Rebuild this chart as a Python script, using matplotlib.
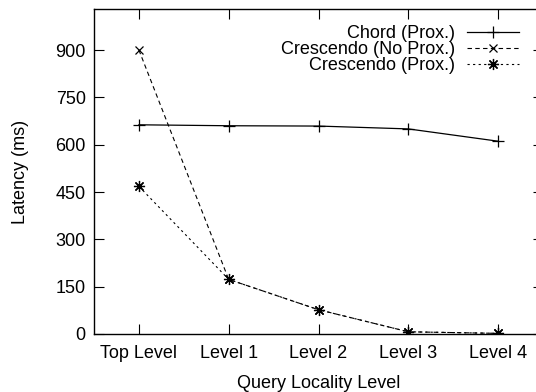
import matplotlib
matplotlib.use("Agg")
import matplotlib.pyplot as plt

plt.rcParams['font.family'] = ['Liberation Sans', 'DejaVu Sans']

levels = ["Top Level", "Level 1", "Level 2", "Level 3", "Level 4"]
chord_prox = [663, 660, 659, 650, 611]
crescendo_no_prox = [900, 173, 77, 7, 2]
crescendo_prox = [468, 173, 77, 7, 2]

x = list(range(len(levels)))

fig = plt.figure(figsize=(5.36, 3.92), dpi=100)
ax = fig.add_axes([94 / 536, 1 - 334 / 392, (543 - 94) / 536, (334 - 9) / 392])

ax.plot(x, chord_prox, color="black", lw=0.9, marker="+", ms=8, mew=0.9,
        label="Chord (Prox.)")
ax.plot(x, crescendo_no_prox, color="black", lw=0.8, ls=(0, (4, 3)), marker="x",
        ms=6, mew=0.9, label="Crescendo (No Prox.)")
ax.plot(x, crescendo_prox, color="black", lw=0.8, ls=(0, (2, 3)), marker=(8, 2, 0),
        ms=8, mew=0.9, label="Crescendo (Prox.)")

ax.set_xlim(-0.5, 4.5)
ax.set_ylim(0, 1030)
ax.set_xticks(x)
ax.set_xticklabels(levels)
ax.set_yticks([0, 150, 300, 450, 600, 750, 900])
ax.tick_params(direction="in", top=True, right=True, length=7, width=0.8,
               labelsize=13, pad=6)
ax.tick_params(axis="x", pad=8)
for s in ax.spines.values():
    s.set_linewidth(1.0)

ax.set_xlabel("Query Locality Level", fontsize=13, labelpad=9)
ax.set_ylabel("Latency (ms)", fontsize=13, labelpad=19)

leg = ax.legend(loc="upper right", bbox_to_anchor=(0.983, 1.0), frameon=False,
                markerfirst=False, fontsize=13, handlelength=2.9,
                labelspacing=-0.05, handletextpad=0.65, borderpad=0.4)

fig.savefig("out.png", dpi=100)
